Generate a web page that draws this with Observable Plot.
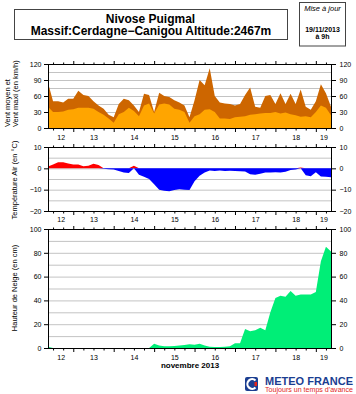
<!DOCTYPE html>
<html><head><meta charset="utf-8">
<script src="https://cdn.jsdelivr.net/npm/d3@7"></script>
<script src="https://cdn.jsdelivr.net/npm/@observablehq/plot@0.6"></script>
<style>
body{margin:0;background:#fff;}
#root{position:relative;width:356px;height:394px;overflow:hidden;background:#fff;font-family:"Liberation Sans",Arial,Helvetica,sans-serif;}
.panel{position:absolute;left:0;}
.panel svg{overflow:visible;display:block;}
#overlay{position:absolute;left:0;top:0;}
</style></head>
<body><div id="root"></div>
<script>
// ---- data (3-hourly, from 12 Nov 2013 09h to 19 Nov 2013 09h) ----
const windMax = [85,50,50,48,55,55,70,62,60,50,42,36,25,20,45,55,52,42,30,64,62,30,66,60,58,52,48,42,20,52,90,80,112,60,48,46,45,42,45,62,76,40,38,60,62,45,65,45,64,45,72,40,34,50,82,65,40];
const windMean = [40,30,30,31,34,35,38,38,38,36,30,25,18,10,26,30,38,32,22,42,46,27,44,46,44,36,34,30,10,22,26,34,35,30,18,18,17,20,21,22,25,26,27,28,28,30,27,29,26,24,21,22,20,30,42,38,24];
const temperature = [0.9,1.8,2.8,2.8,2.3,1.8,1.8,1.0,1.2,2.1,1.6,-0.2,-0.4,-0.6,-1.2,-2.0,-2.2,1.2,-3.0,-4.0,-5.0,-7.5,-10,-10.5,-10.8,-10.2,-9.8,-10,-10.2,-6.0,-3.5,-2.0,-1.0,-1.2,-1.0,-1.3,-1.1,-1.2,-1.4,-1.5,-2.8,-3.0,-2.5,-1.9,-2.0,-1.8,-1.9,-1.6,-0.8,-0.5,0.4,-3.2,-3.7,-1.8,-3.8,-4.0,-4.2];
const snow = [1,0,0,0,0,0,0,0,0,0,0,0,0,0,0,0,0,0,0,0,0,3.5,2,1.5,1.5,1.7,2,2.5,3.2,2.8,3.5,2,1,0.8,0.8,1,1.5,4,4,16,14,15,17,15,30,42,44,43,48,44,45,45,45,47,73,85,81];
const dayLabels = ["12","13","14","15","16","17","18","19"];
const windTicks = [0,30,60,90,120];
const windGrid = [15,30,45,60,75,90,105];
const tempTicks = [-20,-10,0,10];
const tempGrid = [-15,-10,-5,0,5];
const snowTicks = [0,20,40,60,80,100];
const snowGrid = [10,20,30,40,50,60,70,80,90];

const FONT = '"Liberation Sans",Arial,Helvetica,sans-serif';
const start = Date.UTC(2013,10,12,9), end = Date.UTC(2013,10,19,9);
const STEP = 3*3600e3;
const rows = windMax.map((v,i)=>({t:new Date(start+i*STEP), max:v, mean:windMean[i], temp:temperature[i], snow:snow[i]}));
const dayData = dayLabels.map(l=>{
  const d=+l, a=Math.max(start,Date.UTC(2013,10,d)), b=Math.min(end,Date.UTC(2013,10,d+1));
  return {t:new Date((a+b)/2), label:l};
});
const allTicks = d3.utcHour.every(6).range(new Date(start), new Date(end+1));
const midnight = allTicks.filter(d=>d.getUTCHours()===0);
const minor = allTicks.filter(d=>d.getUTCHours()!==0);

const root = document.getElementById("root");

function panel({top,height,mt,mb,yDomain,yTicks,grid,marks,labelDy,extra=[]}){
  const svg = Plot.plot({
    width:356, height, marginLeft:48, marginRight:25, marginTop:mt, marginBottom:mb,
    style:{background:"transparent", overflow:"visible", fontFamily:FONT, fontSize:"7px", color:"#000"},
    x:{type:"utc", domain:[new Date(start), new Date(end)]},
    y:{domain:yDomain},
    marks:[
      Plot.ruleY(grid,{stroke:"#b4b4b4", strokeWidth:0.8}),
      ...marks,
      Plot.frame({stroke:"#000", strokeWidth:1}),
      Plot.axisY(yTicks,{anchor:"left", tickSize:4, tickPadding:3, label:null, fontSize:7}),
      Plot.axisY(yTicks,{anchor:"right", tickSize:4, tickPadding:4, label:null, fontSize:7}),
      Plot.axisX(minor,{anchor:"bottom", tickSize:2.5, tickFormat:()=>"", label:null}),
      Plot.axisX(midnight,{anchor:"bottom", tickSize:4, tickFormat:()=>"", label:null}),
      Plot.axisX(minor,{anchor:"top", tickSize:2.5, tickFormat:()=>"", label:null}),
      Plot.axisX(midnight,{anchor:"top", tickSize:4, tickFormat:()=>"", label:null}),
      Plot.text(dayData,{x:"t", text:"label", frameAnchor:"bottom", dy:labelDy, fontSize:7}),
      ...extra
    ]
  });
  const div = document.createElement("div");
  div.className="panel"; div.style.top=top+"px";
  div.appendChild(svg); root.appendChild(div);
}

panel({top:55,height:90,mt:9,mb:17,yDomain:[0,120],yTicks:windTicks,grid:windGrid,labelDy:11,
  marks:[
    Plot.areaY(rows,{x:"t", y:"max", fill:"#cd6600"}),
    Plot.areaY(rows,{x:"t", y:"mean", fill:"#ffa500"})
  ]});

panel({top:140,height:88,mt:7,mb:17,yDomain:[-20,10],yTicks:tempTicks,grid:tempGrid,labelDy:10,
  marks:[
    Plot.areaY(rows,{x:"t", y1:0, y2:d=>Math.max(0,d.temp), fill:"#ff0000"}),
    Plot.areaY(rows,{x:"t", y1:0, y2:d=>Math.min(0,d.temp), fill:"#0000ff"})
  ]});

panel({top:222,height:150,mt:7,mb:24,yDomain:[0,100],yTicks:snowTicks,grid:snowGrid,labelDy:11.5,
  marks:[
    Plot.areaY(rows,{x:"t", y:"snow", fill:"#00ee77"})
  ],
  extra:[Plot.text(["novembre 2013"],{frameAnchor:"bottom", dy:19.5, fontSize:8, fontWeight:"bold"})]
});

// overlay: titles, axis titles, logo
const ns="http://www.w3.org/2000/svg";
const ov = document.createElementNS(ns,"svg");
ov.setAttribute("id","overlay"); ov.setAttribute("width",356); ov.setAttribute("height",394);
ov.setAttribute("font-family",FONT);
ov.innerHTML = `
<rect x="14.5" y="9.5" width="273" height="30" fill="#fff" stroke="#444" stroke-width="1"/>
<text x="150.5" y="22.5" text-anchor="middle" font-size="12" font-weight="bold">Nivose Puigmal</text>
<text x="151" y="35" text-anchor="middle" font-size="12" font-weight="bold">Massif:Cerdagne−Canigou Altitude:2467m</text>
<rect x="299.5" y="2.5" width="46" height="43.5" fill="#fff" stroke="#444" stroke-width="1"/>
<text x="322.5" y="10.5" text-anchor="middle" font-size="7.5" font-style="italic">Mise à jour</text>
<text x="322.5" y="31.5" text-anchor="middle" font-size="7" font-weight="bold">19/11/2013</text>
<text x="322.5" y="38.5" text-anchor="middle" font-size="7" font-weight="bold">à 9h</text>
<text transform="translate(7,127) rotate(-90)" dy="0.35em" font-size="7.5">Vent moyen et</text>
<text transform="translate(15,127) rotate(-90)" dy="0.35em" font-size="7.5">Vent maxi (en km/h)</text>
<text transform="translate(14.5,180) rotate(-90)" dy="0.35em" text-anchor="middle" font-size="7.5">Température Air (en °C)</text>
<text transform="translate(14.5,288) rotate(-90)" dy="0.35em" text-anchor="middle" font-size="7.5">Hauteur de Neige (en cm)</text>
<rect x="245" y="377" width="13" height="14" rx="2" fill="#1b3e91"/>
<path d="M255.5 380.5 A4.8 4.8 0 1 0 255.5 387.5" fill="none" stroke="#fff" stroke-width="2.2"/>
<rect x="254.5" y="382" width="2.5" height="4" fill="#e2231a"/>
<text x="265" y="385" font-size="11" font-weight="bold" fill="#1b3e91" textLength="88" lengthAdjust="spacingAndGlyphs">METEO FRANCE</text>
<text x="265" y="392" font-size="6.5" fill="#e2231a" textLength="88" lengthAdjust="spacingAndGlyphs">Toujours un temps d'avance</text>
`;
root.appendChild(ov);
</script>
</body></html>
